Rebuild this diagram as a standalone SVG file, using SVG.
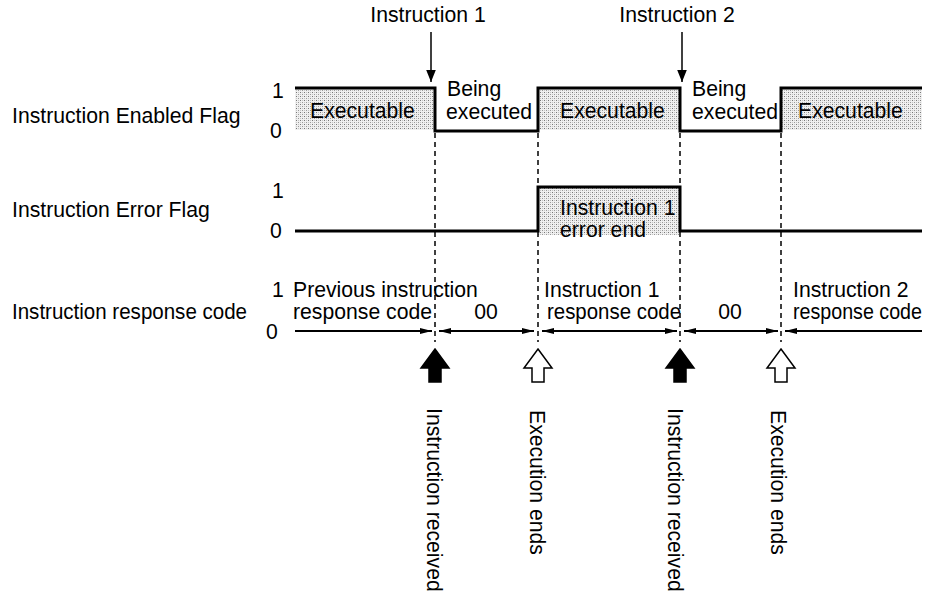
<svg xmlns="http://www.w3.org/2000/svg" width="934" height="594" viewBox="0 0 934 594">
<style>
text{font-family:"Liberation Sans",Arial,sans-serif;font-size:21.2px;fill:#000}
.sig{fill:none;stroke:#000;stroke-width:3;stroke-linejoin:miter}
.dash{stroke:#000;stroke-width:1.5;stroke-dasharray:5,4}
.resp{stroke:#000;stroke-width:2}
.shade{fill:url(#dots)}
.up-f{fill:#000;stroke:#000;stroke-width:1.5}
.up-h{fill:#fff;stroke:#000;stroke-width:1.5}
</style>
<defs>
<pattern id="dots" width="4" height="4" patternUnits="userSpaceOnUse">
<rect width="4" height="4" fill="#f0f0f0"/>
<rect x="0" y="0" width="1" height="1" fill="#777"/>
<rect x="2" y="2" width="1" height="1" fill="#999"/>
<rect x="2" y="0" width="1" height="1" fill="#c4c4c4"/>
<rect x="0" y="2" width="1" height="1" fill="#c4c4c4"/>
</pattern>
<marker id="ah" viewBox="0 0 10 10" refX="10" refY="5" markerWidth="12" markerHeight="12" markerUnits="userSpaceOnUse" orient="auto">
<path d="M0,1 L10,5 L0,9 Z" fill="#000"/>
</marker>
<marker id="tri" viewBox="0 0 12 6" refX="12" refY="3" markerWidth="12" markerHeight="6" markerUnits="userSpaceOnUse" orient="auto">
<path d="M0,0 L12,3 L0,6 Z" fill="#000"/>
</marker>
</defs>

<g id="labels">
<text x="12" y="123">Instruction Enabled Flag</text>
<text x="12" y="217">Instruction Error Flag</text>
<text x="12" y="319" textLength="235" lengthAdjust="spacingAndGlyphs">Instruction response code</text>
<text x="272" y="98">1</text>
<text x="270" y="138">0</text>
<text x="272" y="198">1</text>
<text x="270" y="238">0</text>
<text x="272" y="297">1</text>
<text x="266" y="339">0</text>
</g>

<g id="instr1">
<text x="428" y="22" text-anchor="middle">Instruction 1</text>
</g>
<g id="instr2">
<text x="677" y="22" text-anchor="middle">Instruction 2</text>
</g>

<g id="enabled-flag">
<rect class="shade" x="295" y="88" width="140" height="42"/>
<rect class="shade" x="538" y="88" width="142" height="42"/>
<rect class="shade" x="781" y="88" width="141" height="42"/>
<path class="sig" d="M295,88 H435 V131 H538 V88 H680 V131 H781 V88 H922"/>
<text x="310" y="118">Executable</text>
<text x="447" y="96">Being</text>
<text x="446" y="119">executed</text>
<text x="560" y="118">Executable</text>
<text x="692" y="96">Being</text>
<text x="692" y="119">executed</text>
<text x="798" y="118">Executable</text>
</g>

<g id="error-flag">
<rect class="shade" x="538" y="187" width="142" height="48"/>
<path class="sig" d="M295,231 H538 V187 H680 V231 H922"/>
<text x="560" y="215">Instruction 1</text>
<text x="560" y="237">error end</text>
</g>

<g id="response-code">
<text x="293" y="297">Previous instruction</text>
<text x="293" y="319">response code</text>
<text x="486" y="319" text-anchor="middle">00</text>
<text x="544" y="297">Instruction 1</text>
<text x="547" y="319" textLength="134" lengthAdjust="spacingAndGlyphs">response code</text>
<text x="730" y="319" text-anchor="middle">00</text>
<text x="793" y="297">Instruction 2</text>
<text x="793" y="319" textLength="129" lengthAdjust="spacingAndGlyphs">response code</text>
</g>

<g id="events">
<path class="up-f" d="M435,349 L449,368 L441,368 L441,382 L429,382 L429,368 L421,368 Z"/>
<path class="up-h" d="M538,349 L552,368 L544,368 L544,382 L532,382 L532,368 L524,368 Z"/>
<path class="up-f" d="M680,349 L694,368 L686,368 L686,382 L674,382 L674,368 L666,368 Z"/>
<path class="up-h" d="M781,349 L795,368 L787,368 L787,382 L775,382 L775,368 L767,368 Z"/>
<text transform="translate(427,408) rotate(90)">Instruction received</text>
<text transform="translate(530,410) rotate(90)">Execution ends</text>
<text transform="translate(668,408) rotate(90)">Instruction received</text>
<text transform="translate(771,410) rotate(90)">Execution ends</text>
</g>

<g id="connectors">
<line x1="431" y1="32" x2="431" y2="82" stroke="#000" stroke-width="1.5" marker-end="url(#ah)"/>
<line x1="682" y1="32" x2="682" y2="82" stroke="#000" stroke-width="1.5" marker-end="url(#ah)"/>
<line class="dash" x1="435" y1="133" x2="435" y2="342"/>
<line class="dash" x1="538" y1="133" x2="538" y2="342"/>
<line class="dash" x1="680" y1="133" x2="680" y2="342"/>
<line class="dash" x1="781" y1="133" x2="781" y2="342"/>
<line class="resp" x1="295" y1="331" x2="432" y2="331" marker-end="url(#tri)"/>
<line class="resp" x1="486" y1="331" x2="439" y2="331" marker-end="url(#tri)"/>
<line class="resp" x1="486" y1="331" x2="534" y2="331" marker-end="url(#tri)"/>
<line class="resp" x1="610" y1="331" x2="542" y2="331" marker-end="url(#tri)"/>
<line class="resp" x1="610" y1="331" x2="677" y2="331" marker-end="url(#tri)"/>
<line class="resp" x1="730" y1="331" x2="684" y2="331" marker-end="url(#tri)"/>
<line class="resp" x1="730" y1="331" x2="778" y2="331" marker-end="url(#tri)"/>
<line class="resp" x1="922" y1="331" x2="785" y2="331" marker-end="url(#tri)"/>
</g>
</svg>
